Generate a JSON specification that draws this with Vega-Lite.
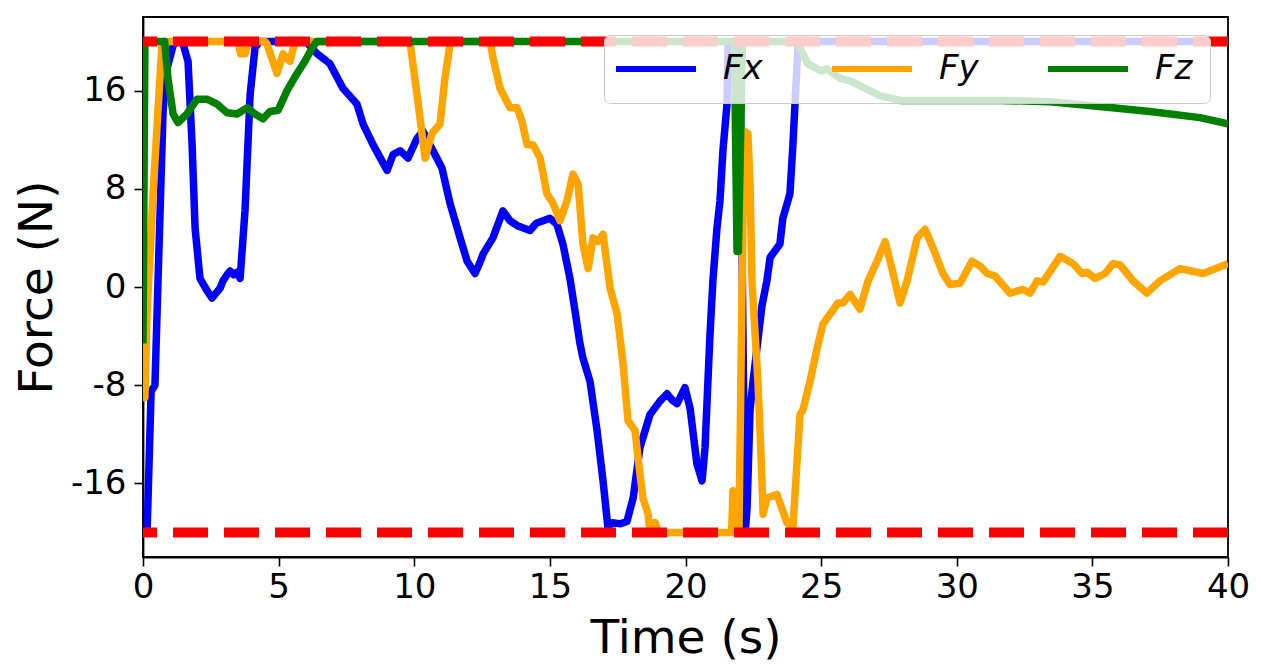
{
  "$schema": "https://vega.github.io/schema/vega-lite/v6.json",
  "width": 1085,
  "height": 540,
  "autosize": {"type": "none"},
  "padding": {"left": 143, "top": 17, "right": 33, "bottom": 115},
  "background": "white",
  "config": {
    "font": "DejaVu Sans",
    "view": {"stroke": "#000000", "strokeWidth": 1.8},
    "axis": {
      "grid": false,
      "labelFont": "DejaVu Sans",
      "titleFont": "DejaVu Sans",
      "labelFontSize": 34,
      "titleFontSize": 47,
      "titleFontWeight": "normal",
      "labelColor": "#000000",
      "titleColor": "#000000",
      "tickColor": "#000000",
      "domainColor": "#000000",
      "tickSize": 9,
      "tickWidth": 1.6,
      "domainWidth": 1.8,
      "labelFlush": false,
      "labelOverlap": false,
      "labelExpr": "'' + datum.value"
    },
    "legend": {
      "labelFont": "DejaVu Sans",
      "labelFontSize": 34,
      "labelFontStyle": "italic",
      "labelColor": "#000000"
    }
  },
  "datasets": {
    "forces": [
      {"s": "Fx", "t": 0, "v": -20}, {"s": "Fx", "t": 0.15, "v": -20}, {"s": "Fx", "t": 0.3, "v": -8.5}, {"s": "Fx", "t": 0.44, "v": -8},
      {"s": "Fx", "t": 0.52, "v": -2}, {"s": "Fx", "t": 0.74, "v": 14.3}, {"s": "Fx", "t": 0.85, "v": 17.5}, {"s": "Fx", "t": 1.1, "v": 19.6},
      {"s": "Fx", "t": 1.2, "v": 20}, {"s": "Fx", "t": 1.45, "v": 20}, {"s": "Fx", "t": 1.66, "v": 18.4}, {"s": "Fx", "t": 1.81, "v": 11.6},
      {"s": "Fx", "t": 1.92, "v": 4.8}, {"s": "Fx", "t": 2.1, "v": 0.7}, {"s": "Fx", "t": 2.36, "v": -0.3}, {"s": "Fx", "t": 2.54, "v": -0.9},
      {"s": "Fx", "t": 2.73, "v": -0.4}, {"s": "Fx", "t": 2.84, "v": -0.1}, {"s": "Fx", "t": 2.95, "v": 0.5}, {"s": "Fx", "t": 3.1, "v": 1.0},
      {"s": "Fx", "t": 3.21, "v": 1.3}, {"s": "Fx", "t": 3.35, "v": 1.0}, {"s": "Fx", "t": 3.47, "v": 1.2}, {"s": "Fx", "t": 3.58, "v": 0.7},
      {"s": "Fx", "t": 3.76, "v": 6.2}, {"s": "Fx", "t": 3.95, "v": 15.7}, {"s": "Fx", "t": 4.13, "v": 19.5}, {"s": "Fx", "t": 4.3, "v": 20},
      {"s": "Fx", "t": 6.0, "v": 20}, {"s": "Fx", "t": 6.42, "v": 19.0}, {"s": "Fx", "t": 6.89, "v": 18.2}, {"s": "Fx", "t": 7.37, "v": 16.2},
      {"s": "Fx", "t": 7.89, "v": 14.9}, {"s": "Fx", "t": 8.11, "v": 13.3}, {"s": "Fx", "t": 8.48, "v": 11.6}, {"s": "Fx", "t": 9.0, "v": 9.5},
      {"s": "Fx", "t": 9.22, "v": 10.8}, {"s": "Fx", "t": 9.48, "v": 11.1}, {"s": "Fx", "t": 9.77, "v": 10.5}, {"s": "Fx", "t": 10.1, "v": 12.1},
      {"s": "Fx", "t": 10.32, "v": 12.7}, {"s": "Fx", "t": 10.69, "v": 11.1}, {"s": "Fx", "t": 11.02, "v": 9.7}, {"s": "Fx", "t": 11.32, "v": 6.8},
      {"s": "Fx", "t": 11.69, "v": 4.0}, {"s": "Fx", "t": 11.95, "v": 2.1}, {"s": "Fx", "t": 12.24, "v": 1.1}, {"s": "Fx", "t": 12.42, "v": 2.0},
      {"s": "Fx", "t": 12.54, "v": 2.7}, {"s": "Fx", "t": 12.9, "v": 4.0}, {"s": "Fx", "t": 13.27, "v": 6.2}, {"s": "Fx", "t": 13.53, "v": 5.4},
      {"s": "Fx", "t": 13.8, "v": 5.0}, {"s": "Fx", "t": 14.27, "v": 4.6}, {"s": "Fx", "t": 14.5, "v": 5.2}, {"s": "Fx", "t": 15.0, "v": 5.6},
      {"s": "Fx", "t": 15.26, "v": 5.1}, {"s": "Fx", "t": 15.48, "v": 3.5}, {"s": "Fx", "t": 15.74, "v": 0.7}, {"s": "Fx", "t": 15.93, "v": -2},
      {"s": "Fx", "t": 16.1, "v": -4.5}, {"s": "Fx", "t": 16.22, "v": -5.8}, {"s": "Fx", "t": 16.48, "v": -7.7}, {"s": "Fx", "t": 16.74, "v": -11.7},
      {"s": "Fx", "t": 16.96, "v": -15.8}, {"s": "Fx", "t": 17.14, "v": -19.6}, {"s": "Fx", "t": 17.3, "v": -19.2}, {"s": "Fx", "t": 17.6, "v": -19.3},
      {"s": "Fx", "t": 17.84, "v": -19.1}, {"s": "Fx", "t": 18.07, "v": -17.2}, {"s": "Fx", "t": 18.32, "v": -13.1}, {"s": "Fx", "t": 18.51, "v": -11.7},
      {"s": "Fx", "t": 18.69, "v": -10.4}, {"s": "Fx", "t": 19.06, "v": -9.3}, {"s": "Fx", "t": 19.32, "v": -8.7}, {"s": "Fx", "t": 19.5, "v": -9.2},
      {"s": "Fx", "t": 19.69, "v": -9.5}, {"s": "Fx", "t": 19.98, "v": -8.2}, {"s": "Fx", "t": 20.17, "v": -9.9}, {"s": "Fx", "t": 20.42, "v": -14.4},
      {"s": "Fx", "t": 20.61, "v": -15.8}, {"s": "Fx", "t": 20.72, "v": -13.1}, {"s": "Fx", "t": 20.9, "v": -4}, {"s": "Fx", "t": 21.01, "v": 0.5},
      {"s": "Fx", "t": 21.16, "v": 4.8}, {"s": "Fx", "t": 21.27, "v": 7.0}, {"s": "Fx", "t": 21.38, "v": 11.1}, {"s": "Fx", "t": 21.53, "v": 14.9},
      {"s": "Fx", "t": 21.57, "v": 19.8}, {"s": "Fx", "t": 21.75, "v": 20}, {"s": "Fx", "t": 22.0, "v": 20}, {"s": "Fx", "t": 22.2, "v": -20},
      {"s": "Fx", "t": 22.27, "v": -18}, {"s": "Fx", "t": 22.38, "v": -10}, {"s": "Fx", "t": 22.49, "v": -7.7}, {"s": "Fx", "t": 22.82, "v": -1.5},
      {"s": "Fx", "t": 23.0, "v": 0.5}, {"s": "Fx", "t": 23.12, "v": 2.4}, {"s": "Fx", "t": 23.48, "v": 3.5}, {"s": "Fx", "t": 23.59, "v": 5.6},
      {"s": "Fx", "t": 23.85, "v": 7.6}, {"s": "Fx", "t": 23.96, "v": 11.6}, {"s": "Fx", "t": 24.15, "v": 19.8}, {"s": "Fx", "t": 24.3, "v": 20},
      {"s": "Fx", "t": 40, "v": 20},

      {"s": "Fy", "t": 0, "v": -9}, {"s": "Fy", "t": 0.07, "v": -9}, {"s": "Fy", "t": 0.15, "v": -2}, {"s": "Fy", "t": 0.37, "v": 7.6},
      {"s": "Fy", "t": 0.55, "v": 14.3}, {"s": "Fy", "t": 0.7, "v": 19.8}, {"s": "Fy", "t": 0.75, "v": 20}, {"s": "Fy", "t": 3.5, "v": 20},
      {"s": "Fy", "t": 3.6, "v": 19.0}, {"s": "Fy", "t": 3.76, "v": 19.0}, {"s": "Fy", "t": 3.9, "v": 20}, {"s": "Fy", "t": 4.5, "v": 20},
      {"s": "Fy", "t": 4.57, "v": 19.8}, {"s": "Fy", "t": 4.94, "v": 17.4}, {"s": "Fy", "t": 5.16, "v": 19}, {"s": "Fy", "t": 5.3, "v": 18.6},
      {"s": "Fy", "t": 5.42, "v": 18.4}, {"s": "Fy", "t": 5.6, "v": 20}, {"s": "Fy", "t": 9.84, "v": 20}, {"s": "Fy", "t": 10.1, "v": 15.7},
      {"s": "Fy", "t": 10.4, "v": 10.5}, {"s": "Fy", "t": 10.65, "v": 12.5}, {"s": "Fy", "t": 10.95, "v": 13.3}, {"s": "Fy", "t": 11.13, "v": 17.0},
      {"s": "Fy", "t": 11.32, "v": 19.8}, {"s": "Fy", "t": 11.4, "v": 20}, {"s": "Fy", "t": 12.8, "v": 20}, {"s": "Fy", "t": 12.9, "v": 18.7},
      {"s": "Fy", "t": 13.16, "v": 16.2}, {"s": "Fy", "t": 13.53, "v": 14.6}, {"s": "Fy", "t": 13.79, "v": 14.6}, {"s": "Fy", "t": 13.97, "v": 13.5},
      {"s": "Fy", "t": 14.16, "v": 11.6}, {"s": "Fy", "t": 14.38, "v": 11.6}, {"s": "Fy", "t": 14.64, "v": 10.5}, {"s": "Fy", "t": 14.89, "v": 7.6},
      {"s": "Fy", "t": 15.12, "v": 6.8}, {"s": "Fy", "t": 15.37, "v": 5.4}, {"s": "Fy", "t": 15.63, "v": 7.0}, {"s": "Fy", "t": 15.85, "v": 9.2},
      {"s": "Fy", "t": 16.04, "v": 8.4}, {"s": "Fy", "t": 16.22, "v": 3.5}, {"s": "Fy", "t": 16.41, "v": 1.5}, {"s": "Fy", "t": 16.59, "v": 4.0},
      {"s": "Fy", "t": 16.77, "v": 3.7}, {"s": "Fy", "t": 16.96, "v": 4.3}, {"s": "Fy", "t": 17.22, "v": -0.1}, {"s": "Fy", "t": 17.48, "v": -2.2},
      {"s": "Fy", "t": 17.7, "v": -6.3}, {"s": "Fy", "t": 17.88, "v": -10.9}, {"s": "Fy", "t": 18.14, "v": -11.7}, {"s": "Fy", "t": 18.25, "v": -13.9},
      {"s": "Fy", "t": 18.43, "v": -17.2}, {"s": "Fy", "t": 18.62, "v": -18.5}, {"s": "Fy", "t": 18.69, "v": -20}, {"s": "Fy", "t": 18.88, "v": -19.2},
      {"s": "Fy", "t": 18.99, "v": -20}, {"s": "Fy", "t": 21.7, "v": -20}, {"s": "Fy", "t": 21.75, "v": -16.6}, {"s": "Fy", "t": 21.84, "v": -16.8},
      {"s": "Fy", "t": 21.9, "v": -20}, {"s": "Fy", "t": 21.97, "v": -20}, {"s": "Fy", "t": 22.16, "v": 12.7}, {"s": "Fy", "t": 22.3, "v": 12.5},
      {"s": "Fy", "t": 22.38, "v": 8.4}, {"s": "Fy", "t": 22.45, "v": 0.5}, {"s": "Fy", "t": 22.67, "v": -7.7}, {"s": "Fy", "t": 22.82, "v": -15.8},
      {"s": "Fy", "t": 22.86, "v": -18.5}, {"s": "Fy", "t": 23.0, "v": -17.2}, {"s": "Fy", "t": 23.37, "v": -16.9}, {"s": "Fy", "t": 23.74, "v": -19.2},
      {"s": "Fy", "t": 23.96, "v": -19.6}, {"s": "Fy", "t": 24.22, "v": -10.4}, {"s": "Fy", "t": 24.33, "v": -10}, {"s": "Fy", "t": 24.59, "v": -7.7},
      {"s": "Fy", "t": 24.85, "v": -5.0}, {"s": "Fy", "t": 25.07, "v": -3.0}, {"s": "Fy", "t": 25.33, "v": -2.2}, {"s": "Fy", "t": 25.62, "v": -1.3},
      {"s": "Fy", "t": 25.81, "v": -1.3}, {"s": "Fy", "t": 26.07, "v": -0.6}, {"s": "Fy", "t": 26.43, "v": -1.8}, {"s": "Fy", "t": 26.73, "v": 0.5},
      {"s": "Fy", "t": 27.06, "v": 2.1}, {"s": "Fy", "t": 27.36, "v": 3.7}, {"s": "Fy", "t": 27.61, "v": 1.5}, {"s": "Fy", "t": 27.91, "v": -1.3},
      {"s": "Fy", "t": 28.17, "v": 0.5}, {"s": "Fy", "t": 28.54, "v": 4.0}, {"s": "Fy", "t": 28.83, "v": 4.7}, {"s": "Fy", "t": 29.12, "v": 3.2},
      {"s": "Fy", "t": 29.49, "v": 1.1}, {"s": "Fy", "t": 29.75, "v": 0.2}, {"s": "Fy", "t": 30.12, "v": 0.3}, {"s": "Fy", "t": 30.56, "v": 2.1},
      {"s": "Fy", "t": 30.86, "v": 1.7}, {"s": "Fy", "t": 31.12, "v": 1.1}, {"s": "Fy", "t": 31.41, "v": 0.9}, {"s": "Fy", "t": 31.96, "v": -0.5},
      {"s": "Fy", "t": 32.44, "v": -0.2}, {"s": "Fy", "t": 32.7, "v": -0.5}, {"s": "Fy", "t": 32.96, "v": 0.5}, {"s": "Fy", "t": 33.18, "v": 0.4},
      {"s": "Fy", "t": 33.81, "v": 2.5}, {"s": "Fy", "t": 34.29, "v": 1.9}, {"s": "Fy", "t": 34.62, "v": 1.1}, {"s": "Fy", "t": 34.8, "v": 1.2},
      {"s": "Fy", "t": 35.1, "v": 0.7}, {"s": "Fy", "t": 35.47, "v": 1.1}, {"s": "Fy", "t": 35.76, "v": 1.9}, {"s": "Fy", "t": 36.02, "v": 1.8},
      {"s": "Fy", "t": 36.28, "v": 1.1}, {"s": "Fy", "t": 36.5, "v": 0.5}, {"s": "Fy", "t": 37.01, "v": -0.5}, {"s": "Fy", "t": 37.49, "v": 0.5},
      {"s": "Fy", "t": 38.23, "v": 1.5}, {"s": "Fy", "t": 39.08, "v": 1.1}, {"s": "Fy", "t": 40, "v": 1.9},

      {"s": "Fz", "t": 0, "v": -4.6}, {"s": "Fz", "t": 0.07, "v": 20}, {"s": "Fz", "t": 0.8, "v": 20}, {"s": "Fz", "t": 0.92, "v": 17.0},
      {"s": "Fz", "t": 1.11, "v": 14.1}, {"s": "Fz", "t": 1.29, "v": 13.4}, {"s": "Fz", "t": 1.62, "v": 14.1}, {"s": "Fz", "t": 1.99, "v": 15.3},
      {"s": "Fz", "t": 2.36, "v": 15.3}, {"s": "Fz", "t": 2.73, "v": 14.9}, {"s": "Fz", "t": 3.1, "v": 14.2}, {"s": "Fz", "t": 3.47, "v": 14.1},
      {"s": "Fz", "t": 3.83, "v": 14.6}, {"s": "Fz", "t": 4.13, "v": 14.1}, {"s": "Fz", "t": 4.42, "v": 13.7}, {"s": "Fz", "t": 4.68, "v": 14.3},
      {"s": "Fz", "t": 4.98, "v": 14.4}, {"s": "Fz", "t": 5.31, "v": 16.0}, {"s": "Fz", "t": 5.68, "v": 17.4}, {"s": "Fz", "t": 5.97, "v": 18.4},
      {"s": "Fz", "t": 6.27, "v": 19.6}, {"s": "Fz", "t": 6.4, "v": 20}, {"s": "Fz", "t": 21.8, "v": 20}, {"s": "Fz", "t": 21.9, "v": 2.9},
      {"s": "Fz", "t": 21.95, "v": 2.9}, {"s": "Fz", "t": 22.1, "v": 20}, {"s": "Fz", "t": 24.11, "v": 20}, {"s": "Fz", "t": 24.5, "v": 18.2},
      {"s": "Fz", "t": 25.0, "v": 17.6}, {"s": "Fz", "t": 25.2, "v": 17.8}, {"s": "Fz", "t": 25.7, "v": 17.0}, {"s": "Fz", "t": 26.07, "v": 16.8},
      {"s": "Fz", "t": 27.17, "v": 15.6}, {"s": "Fz", "t": 27.91, "v": 15.2}, {"s": "Fz", "t": 29.75, "v": 15.2}, {"s": "Fz", "t": 31.59, "v": 15.2},
      {"s": "Fz", "t": 33.44, "v": 15.1}, {"s": "Fz", "t": 35.28, "v": 14.7}, {"s": "Fz", "t": 37.12, "v": 14.3}, {"s": "Fz", "t": 38.97, "v": 13.8},
      {"s": "Fz", "t": 40, "v": 13.3}
    ],
    "limits": [{"limit": 20}, {"limit": -20}]
  },
  "layer": [
    {
      "data": {"name": "forces"},
      "mark": {"type": "line", "strokeWidth": 7.5, "strokeJoin": "round", "clip": true},
      "encoding": {
        "x": {
          "field": "t", "type": "quantitative",
          "scale": {"domain": [0, 40], "nice": false, "zero": false},
          "axis": {"title": "Time (s)", "values": [0, 5, 10, 15, 20, 25, 30, 35, 40], "labelPadding": 4, "titlePadding": 11}
        },
        "y": {
          "field": "v", "type": "quantitative",
          "scale": {"domain": [-22, 22], "nice": false, "zero": false},
          "axis": {"title": "Force (N)", "values": [-16, -8, 0, 8, 16], "labelPadding": 8, "titlePadding": 9}
        },
        "color": {
          "field": "s", "type": "nominal",
          "scale": {"domain": ["Fx", "Fy", "Fz"], "range": ["#0000ff", "#ffa500", "#008000"]},
          "legend": {
            "title": null,
            "orient": "top-right",
            "offset": 18,
            "direction": "horizontal",
            "columns": 3,
            "symbolType": "M-2.2,0H5.8",
            "symbolSize": 400,
            "symbolStrokeWidth": 6,
            "labelOffset": 68,
            "columnPadding": 57,
            "padding": 17,
            "fillColor": "rgba(255,255,255,0.8)",
            "strokeColor": "#cccccc",
            "cornerRadius": 6
          }
        },
        "order": {"field": "t", "type": "quantitative"}
      }
    },
    {
      "data": {"name": "limits"},
      "mark": {"type": "rule", "color": "#ff0000", "strokeWidth": 10, "strokeDash": [35, 16]},
      "encoding": {
        "y": {"field": "limit", "type": "quantitative"}
      }
    }
  ]
}
